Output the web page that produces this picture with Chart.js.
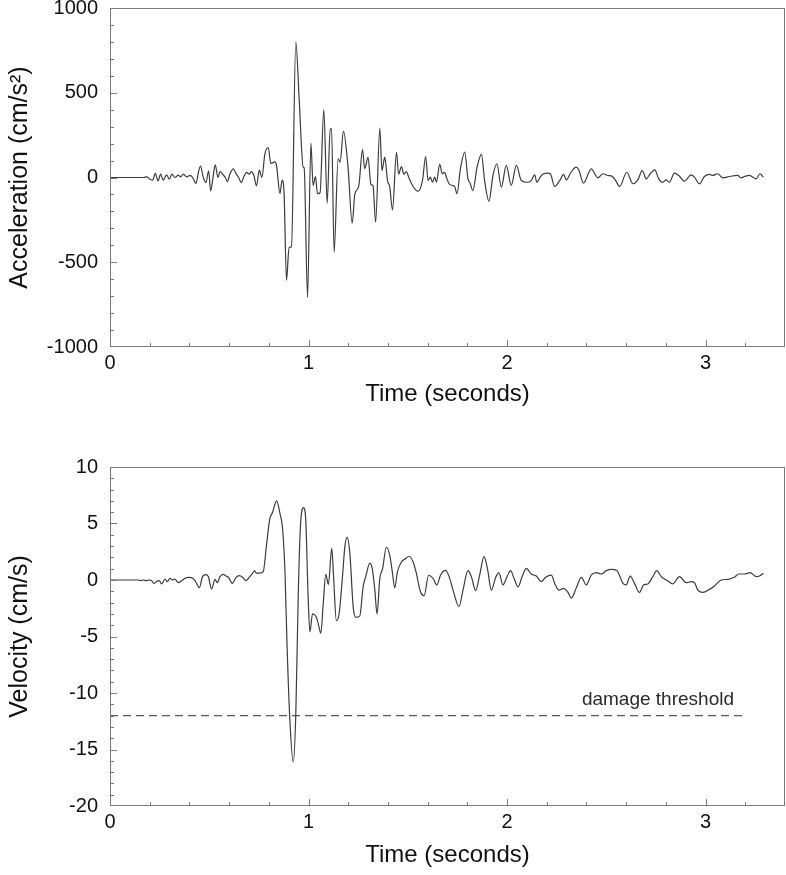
<!DOCTYPE html>
<html>
<head>
<meta charset="utf-8">
<script src="https://cdn.jsdelivr.net/npm/chart.js@4/dist/chart.umd.min.js"></script>
<style>
  body { margin: 0; background: #fff; width: 786px; height: 875px; overflow: hidden; position: relative; }
  canvas { position: absolute; left: 0; }
  #accCanvas { top: -16px; }
  #velCanvas { top: 443px; }
</style>
</head>
<body>
<canvas id="accCanvas" width="786" height="436"></canvas>
<canvas id="velCanvas" width="786" height="432"></canvas>
<script>
// values (time in seconds)
const accTime = [0, 0.168, 0.185, 0.201, 0.215, 0.228, 0.242, 0.255, 0.268, 0.285, 0.299, 0.312, 0.327, 0.344, 0.356, 0.369, 0.386, 0.403, 0.416, 0.433, 0.446, 0.456, 0.470, 0.483, 0.497, 0.507, 0.520, 0.530, 0.544, 0.554, 0.567, 0.581, 0.591, 0.604, 0.621, 0.634, 0.648, 0.661, 0.674, 0.688, 0.701, 0.713, 0.725, 0.738, 0.752, 0.765, 0.780, 0.797, 0.810, 0.830, 0.839, 0.856, 0.867, 0.877, 0.889, 0.902, 0.914, 0.936, 0.953, 0.973, 0.978, 0.995, 1.012, 1.023, 1.035, 1.045, 1.058, 1.077, 1.094, 1.109, 1.116, 1.129, 1.149, 1.159, 1.176, 1.199, 1.220, 1.233, 1.253, 1.272, 1.283, 1.300, 1.314, 1.325, 1.338, 1.359, 1.370, 1.384, 1.398, 1.409, 1.423, 1.443, 1.454, 1.468, 1.480, 1.493, 1.505, 1.525, 1.551, 1.574, 1.590, 1.602, 1.614, 1.624, 1.636, 1.644, 1.661, 1.674, 1.686, 1.694, 1.708, 1.725, 1.736, 1.748, 1.765, 1.787, 1.803, 1.812, 1.828, 1.849, 1.871, 1.887, 1.909, 1.929, 1.949, 1.971, 1.996, 2.021, 2.047, 2.072, 2.100, 2.122, 2.139, 2.150, 2.167, 2.184, 2.206, 2.218, 2.240, 2.265, 2.285, 2.298, 2.322, 2.348, 2.361, 2.385, 2.424, 2.457, 2.483, 2.508, 2.530, 2.547, 2.567, 2.603, 2.634, 2.659, 2.681, 2.701, 2.721, 2.744, 2.764, 2.784, 2.801, 2.818, 2.843, 2.865, 2.894, 2.927, 2.944, 2.969, 2.994, 3.020, 3.036, 3.061, 3.087, 3.120, 3.162, 3.178, 3.196, 3.221, 3.255, 3.274, 3.291];
const accValues = [0, 0, 4, -10, -16, 24, -20, 20, -16, 16, -10, 20, 0, 14, 4, 20, 4, 12, 0, -35, 35, 67, 0, -30, 39, -79, 10, 75, 0, 35, 20, 0, -24, 20, 51, 24, 0, -30, 4, 30, 20, 35, 10, -49, 43, 0, 138, 177, 83, 92, 69, -94, -16, -98, -606, -413, -409, 800, 460, 61, 57, -707, 202, -47, 6, -96, -90, 400, -152, 287, 287, -441, 110, 90, 272, 60, -270, -100, -50, 164, 52, 120, -40, -50, -264, 292, 40, 120, -20, -55, -191, 148, 20, 65, 20, 35, 0, -50, -82, -18, 124, -18, 2, -28, 2, -28, 77, 22, 31, 2, -37, -47, -53, -96, 51, 150, -8, -28, -77, 61, 136, -18, -140, 12, 81, -57, 71, -47, 71, -18, -28, -18, 16, -28, 2, 22, 26, 22, -53, -18, 18, -14, 31, 61, 45, -33, 51, -2, 22, 12, 6, -18, -53, 31, -37, -14, 41, -8, 22, 45, -8, -28, -14, -28, 26, 12, -22, 16, 2, -37, 6, 18, 12, 22, -2, 6, 12, -2, 6, 12, -8, 22, 2];

const velTime = [0, 0.143, 0.151, 0.168, 0.181, 0.198, 0.210, 0.221, 0.235, 0.248, 0.260, 0.277, 0.289, 0.302, 0.315, 0.327, 0.344, 0.361, 0.378, 0.394, 0.411, 0.428, 0.450, 0.466, 0.483, 0.495, 0.512, 0.529, 0.540, 0.554, 0.570, 0.584, 0.596, 0.617, 0.634, 0.651, 0.668, 0.685, 0.701, 0.718, 0.728, 0.738, 0.755, 0.772, 0.789, 0.805, 0.819, 0.839, 0.856, 0.869, 0.881, 0.892, 0.906, 0.923, 0.936, 0.948, 0.960, 0.975, 0.986, 0.998, 1.007, 1.020, 1.037, 1.048, 1.062, 1.074, 1.087, 1.100, 1.117, 1.127, 1.140, 1.154, 1.171, 1.183, 1.194, 1.208, 1.225, 1.238, 1.258, 1.275, 1.288, 1.309, 1.322, 1.334, 1.345, 1.359, 1.373, 1.392, 1.409, 1.423, 1.434, 1.448, 1.468, 1.490, 1.506, 1.527, 1.543, 1.563, 1.582, 1.605, 1.627, 1.647, 1.664, 1.691, 1.708, 1.728, 1.758, 1.778, 1.803, 1.820, 1.842, 1.862, 1.884, 1.901, 1.921, 1.943, 1.959, 1.979, 2.000, 2.018, 2.035, 2.055, 2.077, 2.097, 2.122, 2.147, 2.172, 2.194, 2.223, 2.240, 2.261, 2.285, 2.307, 2.324, 2.348, 2.374, 2.399, 2.424, 2.449, 2.475, 2.500, 2.525, 2.553, 2.584, 2.600, 2.620, 2.642, 2.667, 2.687, 2.709, 2.734, 2.754, 2.776, 2.809, 2.834, 2.869, 2.902, 2.927, 2.944, 2.961, 2.986, 3.020, 3.045, 3.079, 3.113, 3.145, 3.167, 3.196, 3.224, 3.255, 3.271, 3.291];
const velValues = [0, 0, -0.06, 0, -0.06, 0, -0.06, -0.3, -0.12, -0.06, -0.35, 0.09, -0.15, 0.15, 0, 0.09, -0.24, -0.06, 0.15, 0.24, 0.21, -0.06, -0.68, 0.3, 0.47, 0.3, -0.8, 0.06, -0.24, 0.3, 0.5, 0.35, 0.24, -0.3, 0.21, 0.38, 0.24, -0.06, 0.24, 0.59, 0.83, 0.6, 0.6, 0.74, 3.2, 5.4, 6.0, 7.0, 5.9, 4.6, 0.9, -5.9, -12.4, -16.1, -11.8, -1.5, 5.0, 6.4, 5.3, -1.5, -4.6, -3.0, -3.2, -3.8, -4.7, -2.1, 0.5, -0.4, 2.8, 0, -3.6, -3.0, 0.3, 2.95, 3.8, 2.4, -2.4, -3.3, -3.2, -0.6, 0.3, 1.5, 0.9, -0.9, -3.0, 0.15, 1.0, 2.9, 2.2, 0.6, -0.7, 0.74, 1.6, 1.9, 2.1, 1.6, 0.6, -1.0, -1.4, 0.42, 0.15, -0.44, 0.4, 0.85, 0.3, -0.9, -2.36, -0.9, 0.83, 0.3, -0.94, 0.44, 2.07, 1.03, -0.9, 0.24, 0.65, -0.44, 0.3, 0.83, 0.15, -0.6, 0.35, 1.03, 0.53, 0.35, -0.15, 0.24, 0.44, -0.3, -0.9, -0.74, -1.1, -1.6, -0.74, 0.24, -0.44, 0.44, 0.65, 0.53, 0.83, 0.94, 0.83, -0.3, -0.44, 0.35, -0.3, -1.1, -0.44, -0.35, 0.3, 0.83, 0.3, -0.06, -0.35, 0.3, -0.24, -0.15, -0.24, -0.9, -1.1, -0.83, -0.53, 0, 0.06, 0.24, 0.53, 0.53, 0.65, 0.3, 0.35, 0.59];

const timeTicks = [0, 1, 2, 3];
const thresholdValue = -12;
const thresholdSpan = [0, 3.2];
const thresholdLabel = "damage threshold";

const FONT = "'Liberation Sans', Arial, sans-serif";
const lineColor = "#3c3c3c";
const frameColor = "#7a7a7a";

// draws the box around the plot and the little inward ticks
const frameTicks = {
  id: "frameTicks",
  afterDraw(chart, args, opts) {
    const { ctx, chartArea: a, scales: { x, y } } = chart;
    ctx.save();
    ctx.strokeStyle = frameColor;
    ctx.lineWidth = 1;
    ctx.strokeRect(a.left + 0.5, a.top + 0.5, a.right - a.left - 1, a.bottom - a.top - 1);
    ctx.beginPath();
    const nx = Math.round((x.max - x.min) / opts.xStep);
    for (let k = 1; k < nx; k++) {
      const v = x.min + k * opts.xStep;
      const px = Math.round(x.getPixelForValue(v)) + 0.5;
      const major = Math.abs(v - Math.round(v / opts.xMajor) * opts.xMajor) < 1e-6;
      ctx.moveTo(px, a.bottom);
      ctx.lineTo(px, a.bottom - (major ? 7 : 4));
    }
    const ny = Math.round((y.max - y.min) / opts.yStep);
    for (let k = 1; k < ny; k++) {
      const v = y.min + k * opts.yStep;
      const py = Math.round(y.getPixelForValue(v)) + 0.5;
      const major = Math.abs(v - Math.round(v / opts.yMajor) * opts.yMajor) < 1e-6;
      ctx.moveTo(a.left, py);
      ctx.lineTo(a.left + (major ? 7 : 4), py);
    }
    ctx.stroke();
    ctx.restore();
  }
};

const thresholdText = {
  id: "thresholdText",
  afterDatasetsDraw(chart, args, opts) {
    if (!opts.text) return;
    const { ctx, scales: { x, y } } = chart;
    ctx.save();
    ctx.fillStyle = "#2a2a2a";
    ctx.font = "19px " + FONT;
    ctx.textAlign = "center";
    ctx.textBaseline = "bottom";
    ctx.fillText(opts.text, x.getPixelForValue(opts.at), y.getPixelForValue(opts.value) - 6);
    ctx.restore();
  }
};

function makeChart(canvas, cfg) {
  return new Chart(canvas, {
    type: "line",
    data: { datasets: cfg.datasets },
    options: {
      responsive: false,
      animation: false,
      events: [],
      layout: { padding: { top: 0, right: 1, left: 0, bottom: 0 } },
      plugins: {
        legend: { display: false },
        tooltip: { enabled: false },
        frameTicks: cfg.ticks,
        thresholdText: cfg.label || {}
      },
      scales: {
        x: {
          type: "linear",
          min: 0,
          max: 3.4,
          grid: { display: false, drawTicks: false, tickLength: 0 },
          border: { display: false },
          afterBuildTicks: (s) => { s.ticks = timeTicks.map((v) => ({ value: v })); },
          afterFit: (s) => { s.height = cfg.xHeight; },
          ticks: { color: "#111", font: { family: FONT, size: 20 }, padding: 4, maxRotation: 0 },
          title: { display: true, text: "Time (seconds)", color: "#111", font: { family: FONT, size: 24 }, padding: { top: 0, bottom: cfg.titlePad } }
        },
        y: {
          min: cfg.yMin,
          max: cfg.yMax,
          grid: { display: false, drawTicks: false, tickLength: 0 },
          border: { display: false },
          afterFit: (s) => { s.width = 110; },
          ticks: { stepSize: cfg.yLabelStep, color: "#111", font: { family: FONT, size: 20 }, padding: 12, callback: (v) => String(v) },
          title: { display: true, text: cfg.yTitle, color: "#111", font: { family: FONT, size: 25 }, padding: { top: 5, bottom: 0 } }
        }
      }
    },
    plugins: [frameTicks, thresholdText]
  });
}

const traceStyle = {
  borderColor: lineColor,
  borderWidth: 1.2,
  pointRadius: 0,
  fill: false,
  cubicInterpolationMode: "monotone"
};

makeChart(document.getElementById("accCanvas"), {
  datasets: [Object.assign({ data: accTime.map((t, i) => ({ x: t, y: accValues[i] })) }, traceStyle)],
  yMin: -1000, yMax: 1000, yLabelStep: 500,
  yTitle: "Acceleration (cm/s\u00B2)",
  xHeight: 73, titlePad: 11,
  ticks: { xStep: 0.2, xMajor: 1, yStep: 100, yMajor: 500 }
});

makeChart(document.getElementById("velCanvas"), {
  datasets: [
    Object.assign({ data: velTime.map((t, i) => ({ x: t, y: velValues[i] })) }, traceStyle),
    {
      data: thresholdSpan.map((t) => ({ x: t, y: thresholdValue })),
      borderColor: "#5a5a5a",
      borderWidth: 1.2,
      borderDash: [8, 5],
      pointRadius: 0,
      fill: false
    }
  ],
  yMin: -20, yMax: 10, yLabelStep: 5,
  yTitle: "Velocity (cm/s)",
  xHeight: 69, titlePad: 5,
  ticks: { xStep: 0.2, xMajor: 1, yStep: 1, yMajor: 5 },
  label: { text: thresholdLabel, at: 2.76, value: thresholdValue }
});
</script>
</body>
</html>
